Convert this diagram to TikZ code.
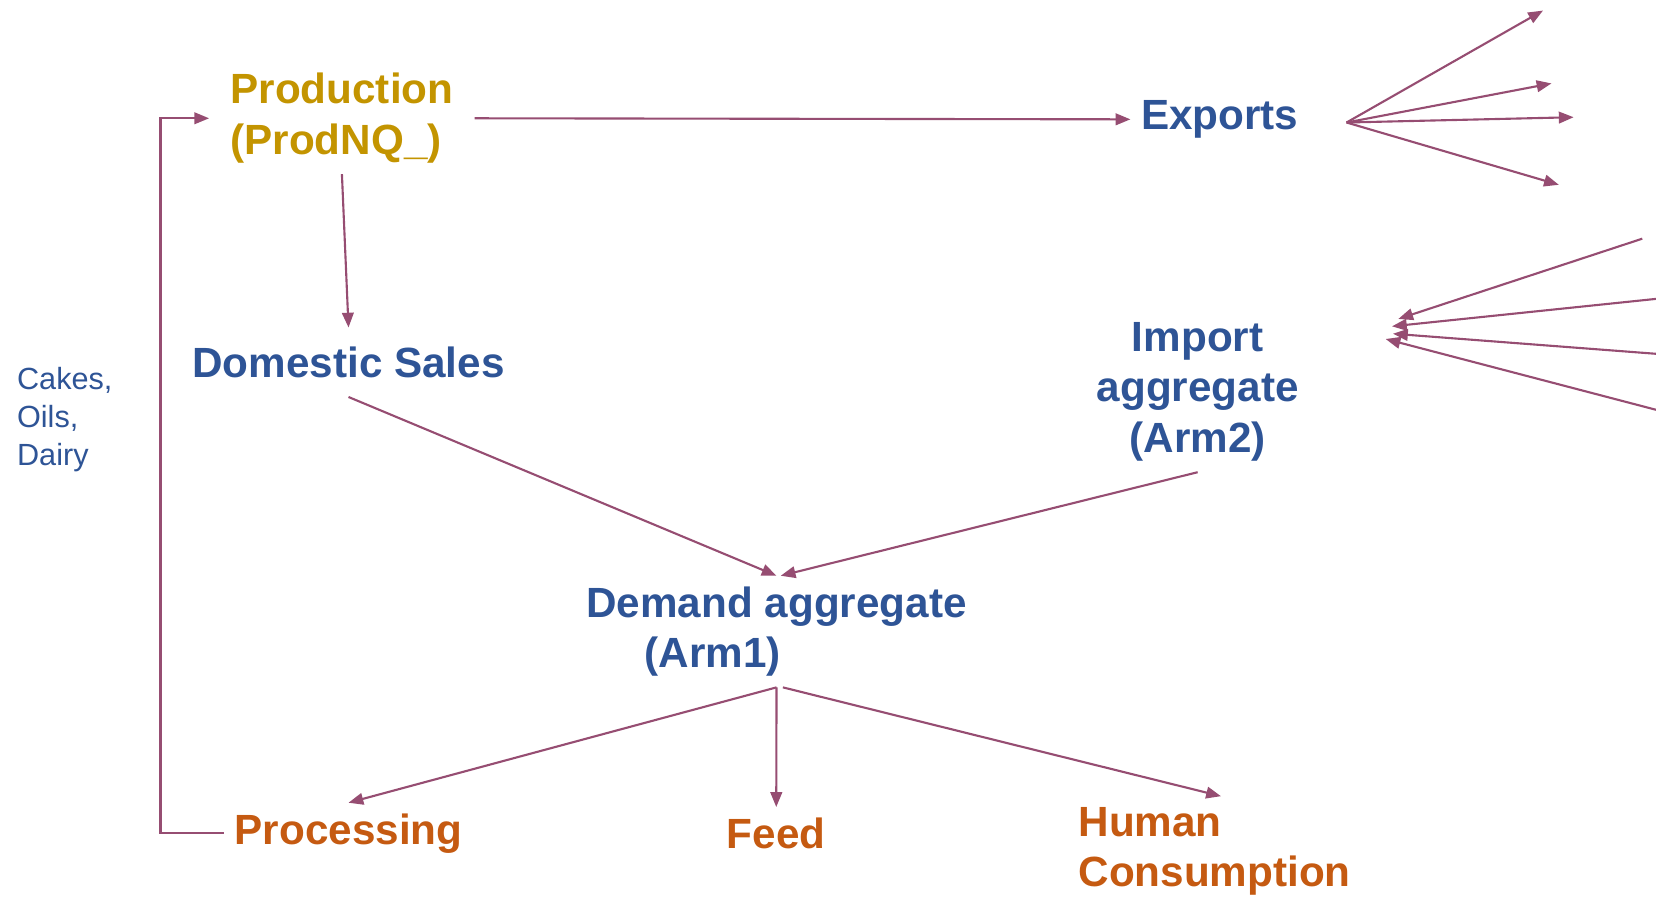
\documentclass[tikz,border=0pt]{standalone}
\usepackage{fontspec}
\setmainfont{Liberation Sans}
\usetikzlibrary{arrows.meta}

\definecolor{flowline}{RGB}{150,77,114}
\definecolor{dblue}{RGB}{46,84,150}
\definecolor{prodgold}{RGB}{195,148,0}
\definecolor{useorange}{RGB}{197,90,17}

\tikzset{
  flow/.style={line width=2pt,color=flowline,-{Triangle[length=14pt,width=11pt]}},
  big/.style={font=\fontsize{40}{48}\selectfont\bfseries,inner sep=10pt},
  mkt/.style={big,color=dblue},
  use/.style={big,color=useorange}
}

\begin{document}
\begin{tikzpicture}[x=1pt,y=-1pt]
        \useasboundingbox (0,0) rectangle (1568,850);

        \node[big,color=prodgold,align=left,anchor=west,inner xsep=20pt] (prod) at (198,112) {Production\\(ProdNQ\_)};
        \node[mkt] (exp) at (1155,113) {Exports};
        \node[mkt,inner ysep=18pt] (dom) at (330,343) {Domestic Sales};
        \node[mkt,align=center] (imp) at (1134,371) {Import\\aggregate\\(Arm2)};
        \node[mkt,align=left,anchor=west] (dem) at (545,598) {Demand aggregate\\\hspace*{55pt}(Arm1)};
        \node[use] (proc) at (330,789) {Processing};
        \node[use] (feed) at (735,789) {Feed};
        \node[use,align=left,anchor=west] (hum) at (1011,806) {Human\\Consumption};
        \node[color=dblue,align=left,anchor=west,inner sep=0pt,
              font=\fontsize{29}{36}\selectfont] (cod) at (16,397) {Cakes,\\Oils,\\Dairy};

        \draw[flow] (prod.east) -- (exp.west);
        \draw[flow] (prod.south) -- (dom.north);
        \draw[flow] (dom.south) -- (dem.north);
        \draw[flow] (imp.south) -- ([xshift=4pt]dem.north);
        \draw[flow] (dem.south) -- (proc.north);
        \draw[flow] (dem.south) -- (feed.north);
        \draw[flow] ([xshift=6pt]dem.south) -- ([xshift=6pt]hum.north);
        \draw[flow] (proc.west) -- ++(-60,0) |- (prod.west);

        % trade partners
        \coordinate (xhub) at (1275,116);
        \foreach \ex/\ey in {1461/10, 1469/79, 1490/111, 1476/175}
            \draw[flow] (xhub) -- (\ex,\ey);
        \foreach \sx/\sy/\tx/\ty in {1555/226/1324/302, 1568/283/1318/309, 1568/335/1319/316, 1568/388/1312/321}
            \draw[flow] (\sx,\sy) -- (\tx,\ty);
    \end{tikzpicture}
\end{document}
